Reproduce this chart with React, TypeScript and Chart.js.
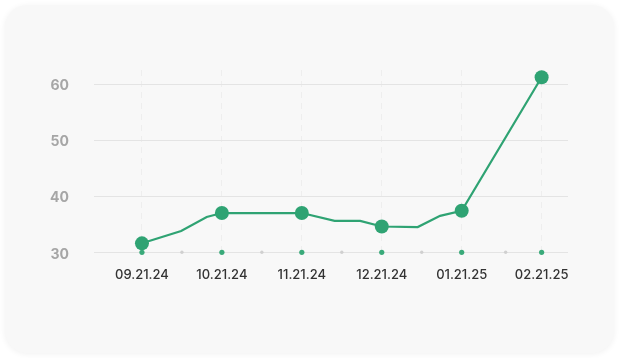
import React, { useEffect, useRef } from "react";
import { Chart, registerables } from "chart.js";

Chart.register(...registerables);

// Tick labels (one per month position 0..5)
const dateLabels = ["09.21.24", "10.21.24", "11.21.24", "12.21.24", "01.21.25", "02.21.25"];
const yTickValues = [30, 40, 50, 60];

// Line vertices (x in month positions)
const lineX = [0, 0.49, 0.81, 1, 2, 2.41, 2.73, 3, 3.45, 3.73, 4, 5];
const lineY = [31.6, 33.8, 36.3, 37.0, 37.0, 35.6, 35.6, 34.6, 34.5, 36.5, 37.4, 61.2];

// Axis dots
const majorDotX = [0, 1, 2, 3, 4, 5];
const minorDotX = [0.5, 1.5, 2.5, 3.5, 4.55];

const GREEN = "#2fa373";

export default function App() {
  const ref = useRef<HTMLCanvasElement | null>(null);

  useEffect(() => {
    if (!ref.current) return;
    const chart = new Chart(ref.current, {
      type: "line",
      data: {
        datasets: [
          {
            data: lineX.map((x, i) => ({ x, y: lineY[i] })),
            borderColor: GREEN,
            backgroundColor: GREEN,
            borderWidth: 2.2,
            tension: 0,
            pointRadius: lineX.map((x) => (Number.isInteger(x) ? 7 : 0)),
            pointHoverRadius: 7,
            pointBackgroundColor: GREEN,
            pointBorderWidth: 0,
            clip: false as any,
          },
          {
            data: majorDotX.map((x) => ({ x, y: 30 })),
            showLine: false,
            pointRadius: 2.6,
            pointBackgroundColor: "#3aaa7a",
            pointBorderWidth: 0,
            clip: false as any,
          },
          {
            data: minorDotX.map((x) => ({ x, y: 30 })),
            showLine: false,
            pointRadius: 1.7,
            pointBackgroundColor: "#d0d0d0",
            pointBorderWidth: 0,
            clip: false as any,
          },
        ],
      },
      options: {
        responsive: false,
        animation: false,
        layout: { padding: { top: 70, right: 51, left: 0, bottom: 0 } },
        plugins: { legend: { display: false }, tooltip: { enabled: false } },
        scales: {
          x: {
            type: "linear",
            min: -0.6,
            max: 5.33,
            afterBuildTicks: (axis: any) => {
              axis.ticks = majorDotX.map((v) => ({ value: v }));
            },
            afterFit: (axis: any) => {
              axis.height = 358 - 252.3;
            },
            ticks: {
              padding: 15,
              color: "#333333",
              font: { family: "Inter", size: 13, weight: 500 },
              callback: (v: any) => dateLabels[Math.round(Number(v))] ?? "",
              maxRotation: 0,
              autoSkip: false,
            },
            grid: { color: "#eeeeee", drawTicks: false, lineWidth: 1 },
            border: { display: false, dash: [6, 5] },
          },
          y: {
            min: 30,
            max: 62.5,
            afterBuildTicks: (axis: any) => {
              axis.ticks = yTickValues.map((v) => ({ value: v }));
            },
            afterFit: (axis: any) => {
              axis.width = 94;
            },
            ticks: {
              padding: 25,
              labelOffset: 2,
              color: "#a6a6a6",
              font: { family: "Inter", size: 14, weight: "bold" },
            },
            grid: { color: "#e4e4e4", drawTicks: false, lineWidth: 1 },
            border: { display: false },
          },
        },
      },
    });
    return () => chart.destroy();
  }, []);

  return (
    <div style={{ position: "fixed", left: 0, top: 0, width: 619, height: 358, background: "#ffffff" }}>
      <div
        style={{
          position: "absolute",
          left: 5,
          top: 5,
          width: 609,
          height: 348,
          borderRadius: 22,
          background: "#f8f8f8",
          boxShadow: "0 1px 6px rgba(0,0,0,0.06)",
        }}
      />
      <canvas
        ref={ref}
        width={619}
        height={358}
        style={{ position: "absolute", left: 0, top: 0, width: 619, height: 358 }}
      />
    </div>
  );
}
